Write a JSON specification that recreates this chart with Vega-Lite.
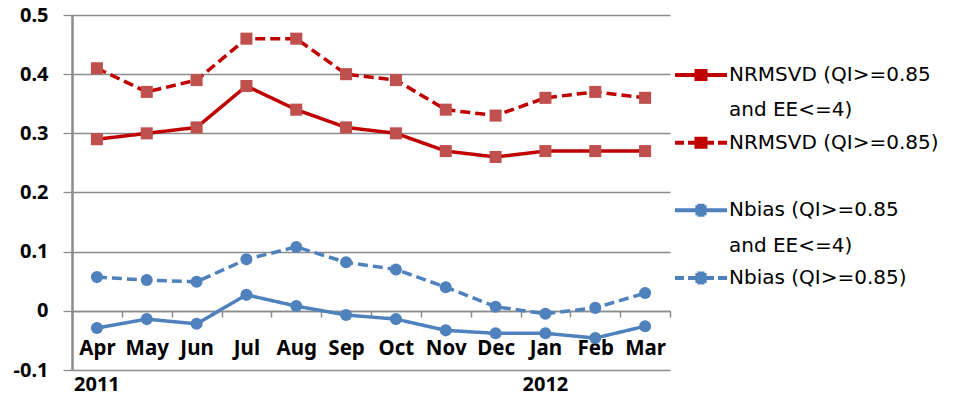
{
  "$schema": "https://vega.github.io/schema/vega-lite/v6.json",
  "autosize": {"type": "none"},
  "padding": {"left": 72, "top": 15, "right": 284, "bottom": 39},
  "width": 598,
  "height": 355,
  "background": "white",
  "config": {"view": {"stroke": null}},
  "data": {"values": [
    {"month": "Apr", "series": "NRMSVD (QI>=0.85 and EE<=4)", "value": 0.29},
    {"month": "May", "series": "NRMSVD (QI>=0.85 and EE<=4)", "value": 0.30},
    {"month": "Jun", "series": "NRMSVD (QI>=0.85 and EE<=4)", "value": 0.31},
    {"month": "Jul", "series": "NRMSVD (QI>=0.85 and EE<=4)", "value": 0.38},
    {"month": "Aug", "series": "NRMSVD (QI>=0.85 and EE<=4)", "value": 0.34},
    {"month": "Sep", "series": "NRMSVD (QI>=0.85 and EE<=4)", "value": 0.31},
    {"month": "Oct", "series": "NRMSVD (QI>=0.85 and EE<=4)", "value": 0.30},
    {"month": "Nov", "series": "NRMSVD (QI>=0.85 and EE<=4)", "value": 0.27},
    {"month": "Dec", "series": "NRMSVD (QI>=0.85 and EE<=4)", "value": 0.26},
    {"month": "Jan", "series": "NRMSVD (QI>=0.85 and EE<=4)", "value": 0.27},
    {"month": "Feb", "series": "NRMSVD (QI>=0.85 and EE<=4)", "value": 0.27},
    {"month": "Mar", "series": "NRMSVD (QI>=0.85 and EE<=4)", "value": 0.27},
    {"month": "Apr", "series": "NRMSVD (QI>=0.85)", "value": 0.41},
    {"month": "May", "series": "NRMSVD (QI>=0.85)", "value": 0.37},
    {"month": "Jun", "series": "NRMSVD (QI>=0.85)", "value": 0.39},
    {"month": "Jul", "series": "NRMSVD (QI>=0.85)", "value": 0.46},
    {"month": "Aug", "series": "NRMSVD (QI>=0.85)", "value": 0.46},
    {"month": "Sep", "series": "NRMSVD (QI>=0.85)", "value": 0.40},
    {"month": "Oct", "series": "NRMSVD (QI>=0.85)", "value": 0.39},
    {"month": "Nov", "series": "NRMSVD (QI>=0.85)", "value": 0.34},
    {"month": "Dec", "series": "NRMSVD (QI>=0.85)", "value": 0.33},
    {"month": "Jan", "series": "NRMSVD (QI>=0.85)", "value": 0.36},
    {"month": "Feb", "series": "NRMSVD (QI>=0.85)", "value": 0.37},
    {"month": "Mar", "series": "NRMSVD (QI>=0.85)", "value": 0.36},
    {"month": "Apr", "series": "Nbias (QI>=0.85 and EE<=4)", "value": -0.029},
    {"month": "May", "series": "Nbias (QI>=0.85 and EE<=4)", "value": -0.014},
    {"month": "Jun", "series": "Nbias (QI>=0.85 and EE<=4)", "value": -0.022},
    {"month": "Jul", "series": "Nbias (QI>=0.85 and EE<=4)", "value": 0.027},
    {"month": "Aug", "series": "Nbias (QI>=0.85 and EE<=4)", "value": 0.008},
    {"month": "Sep", "series": "Nbias (QI>=0.85 and EE<=4)", "value": -0.007},
    {"month": "Oct", "series": "Nbias (QI>=0.85 and EE<=4)", "value": -0.014},
    {"month": "Nov", "series": "Nbias (QI>=0.85 and EE<=4)", "value": -0.033},
    {"month": "Dec", "series": "Nbias (QI>=0.85 and EE<=4)", "value": -0.038},
    {"month": "Jan", "series": "Nbias (QI>=0.85 and EE<=4)", "value": -0.038},
    {"month": "Feb", "series": "Nbias (QI>=0.85 and EE<=4)", "value": -0.046},
    {"month": "Mar", "series": "Nbias (QI>=0.85 and EE<=4)", "value": -0.026},
    {"month": "Apr", "series": "Nbias (QI>=0.85)", "value": 0.057},
    {"month": "May", "series": "Nbias (QI>=0.85)", "value": 0.052},
    {"month": "Jun", "series": "Nbias (QI>=0.85)", "value": 0.049},
    {"month": "Jul", "series": "Nbias (QI>=0.85)", "value": 0.087},
    {"month": "Aug", "series": "Nbias (QI>=0.85)", "value": 0.108},
    {"month": "Sep", "series": "Nbias (QI>=0.85)", "value": 0.082},
    {"month": "Oct", "series": "Nbias (QI>=0.85)", "value": 0.070},
    {"month": "Nov", "series": "Nbias (QI>=0.85)", "value": 0.040},
    {"month": "Dec", "series": "Nbias (QI>=0.85)", "value": 0.007},
    {"month": "Jan", "series": "Nbias (QI>=0.85)", "value": -0.005},
    {"month": "Feb", "series": "Nbias (QI>=0.85)", "value": 0.005},
    {"month": "Mar", "series": "Nbias (QI>=0.85)", "value": 0.030}
  ]},
  "layer": [
    {
      "mark": {"type": "line", "strokeWidth": 3.5},
      "encoding": {
        "x": {
          "field": "month", "type": "ordinal",
          "sort": ["Apr","May","Jun","Jul","Aug","Sep","Oct","Nov","Dec","Jan","Feb","Mar"],
          "scale": {"type": "band", "paddingInner": 0, "paddingOuter": 0},
          "axis": {
            "orient": "bottom", "offset": -59, "title": null, "grid": false,
            "domain": true, "domainColor": "#8c8c8c", "domainWidth": 1.5,
            "ticks": true, "tickBand": "extent", "tickSize": 6, "tickColor": "#8c8c8c", "tickWidth": 1.5,
            "labelPadding": 21, "labelBaseline": "top", "labelAngle": 0,
            "labelFont": "Noto Sans", "labelFontWeight": "bold", "labelFontSize": 20.5, "labelColor": "black",
            "labelFlush": false, "labelOverlap": false
          }
        },
        "y": {
          "field": "value", "type": "quantitative",
          "scale": {"domain": [-0.1, 0.5], "nice": false, "zero": false},
          "axis": {
            "title": null, "values": [-0.1, 0, 0.1, 0.2, 0.3, 0.4, 0.5],
            "labelExpr": "datum.value == 0 ? '0' : (datum.value < 0 ? '-' + format(-datum.value, '.1f') : format(datum.value, '.1f'))",
            "grid": true, "gridColor": "#8c8c8c", "gridWidth": 1.3,
            "domain": true, "domainColor": "#8c8c8c", "domainWidth": 2.5,
            "ticks": true, "tickSize": 9, "tickColor": "#8c8c8c", "tickWidth": 1.3,
            "labelPadding": 15, "labelFont": "Noto Sans", "labelFontWeight": "bold", "labelFontSize": 20,
            "labelColor": "black", "labelFlush": false, "labelOverlap": false
          }
        },
        "stroke": {
          "field": "series", "type": "nominal", "legend": null,
          "scale": {
            "domain": ["NRMSVD (QI>=0.85 and EE<=4)", "NRMSVD (QI>=0.85)", "Nbias (QI>=0.85 and EE<=4)", "Nbias (QI>=0.85)"],
            "range": ["#c00000", "#c00000", "#4f81bd", "#4f81bd"]
          }
        },
        "strokeDash": {
          "field": "series", "type": "nominal", "legend": null,
          "scale": {
            "domain": ["NRMSVD (QI>=0.85 and EE<=4)", "NRMSVD (QI>=0.85)", "Nbias (QI>=0.85 and EE<=4)", "Nbias (QI>=0.85)"],
            "range": [[1, 0], [10, 5], [1, 0], [10, 5]]
          }
        }
      }
    },
    {
      "mark": {"type": "point", "filled": true, "opacity": 1, "size": 145, "strokeWidth": 0},
      "encoding": {
        "x": {
          "field": "month", "type": "ordinal",
          "sort": ["Apr","May","Jun","Jul","Aug","Sep","Oct","Nov","Dec","Jan","Feb","Mar"],
          "axis": {
            "orient": "bottom", "title": null, "grid": false, "domain": false, "ticks": false, "tickSize": 0,
            "labelExpr": "datum.value == 'Apr' ? '2011' : (datum.value == 'Jan' ? '2012' : '')",
            "labelPadding": 4, "labelBaseline": "top", "labelAngle": 0,
            "labelFont": "Noto Sans", "labelFontWeight": "bold", "labelFontSize": 20, "labelColor": "black",
            "labelFlush": false, "labelOverlap": false
          }
        },
        "y": {"field": "value", "type": "quantitative"},
        "fill": {
          "field": "series", "type": "nominal", "legend": null,
          "scale": {
            "domain": ["NRMSVD (QI>=0.85 and EE<=4)", "NRMSVD (QI>=0.85)", "Nbias (QI>=0.85 and EE<=4)", "Nbias (QI>=0.85)"],
            "range": ["#c0504d", "#c0504d", "#4f81bd", "#4f81bd"]
          }
        },
        "shape": {
          "field": "series", "type": "nominal", "legend": null,
          "scale": {
            "domain": ["NRMSVD (QI>=0.85 and EE<=4)", "NRMSVD (QI>=0.85)", "Nbias (QI>=0.85 and EE<=4)", "Nbias (QI>=0.85)"],
            "range": ["square", "square", "circle", "circle"]
          }
        }
      }
    },
    {
      "transform": [{"filter": "datum.series == 'none'"}],
      "mark": {"type": "point", "filled": false, "opacity": 1, "size": 676, "strokeWidth": 4},
      "encoding": {
        "x": {"field": "month", "type": "ordinal", "sort": ["Apr","May","Jun","Jul","Aug","Sep","Oct","Nov","Dec","Jan","Feb","Mar"], "axis": null},
        "y": {"field": "value", "type": "quantitative"},
        "stroke": {
          "field": "series", "type": "nominal",
          "scale": {
            "domain": ["NRMSVD (QI>=0.85 and EE<=4)", "NRMSVD (QI>=0.85 and EE<=4) cont", "NRMSVD (QI>=0.85)", "gap", "Nbias (QI>=0.85 and EE<=4)", "Nbias (QI>=0.85 and EE<=4) cont", "Nbias (QI>=0.85)"],
            "range": ["#c00000", "transparent", "#c00000", "transparent", "#4f81bd", "transparent", "#4f81bd"]
          },
          "legend": {
            "orient": "none", "legendX": 614, "legendY": 45, "title": null, "padding": 0,
            "labelExpr": "datum.label == 'gap' ? '\u200b' : (indexof(datum.label, ' cont') > 0 ? 'and EE<=4)' : (indexof(datum.label, ' and ') > 0 ? slice(datum.label, 0, indexof(datum.label, ' and ')) : datum.label))",
            "labelFont": "DejaVu Sans", "labelFontSize": 20, "labelColor": "black", "labelLimit": 400,
            "labelOffset": 13, "rowPadding": 7.33, "symbolSize": 676, "symbolStrokeWidth": 4,
            "symbolFillColor": "transparent"
          }
        },
        "shape": {
          "field": "series", "type": "nominal",
          "scale": {
            "domain": ["NRMSVD (QI>=0.85 and EE<=4)", "NRMSVD (QI>=0.85 and EE<=4) cont", "NRMSVD (QI>=0.85)", "gap", "Nbias (QI>=0.85 and EE<=4)", "Nbias (QI>=0.85 and EE<=4) cont", "Nbias (QI>=0.85)"],
            "range": [
              "M-2,0H2M-0.5,-0.3077H0.5M-0.5,0.3077H0.5",
              "M-2,0H2",
              "M-2,0H-1.308M-1,0H1M1.308,0H2M-0.5,-0.3077H0.5M-0.5,0.3077H0.5",
              "M-2,0H2",
              "M-2,0H2M-0.4308,-0.2308H0.4308M-0.4308,0.2308H0.4308M-0.2692,-0.3462H0.2692M-0.2692,0.3462H0.2692",
              "M-2,0H2",
              "M-2,0H-1.308M-1,0H1M1.308,0H2M-0.4308,-0.2308H0.4308M-0.4308,0.2308H0.4308M-0.2692,-0.3462H0.2692M-0.2692,0.3462H0.2692"
            ]
          }
        }
      }
    }
  ],
  "resolve": {
    "axis": {"x": "independent"},
    "scale": {"stroke": "independent", "fill": "independent", "strokeDash": "independent", "shape": "independent"}
  }
}
